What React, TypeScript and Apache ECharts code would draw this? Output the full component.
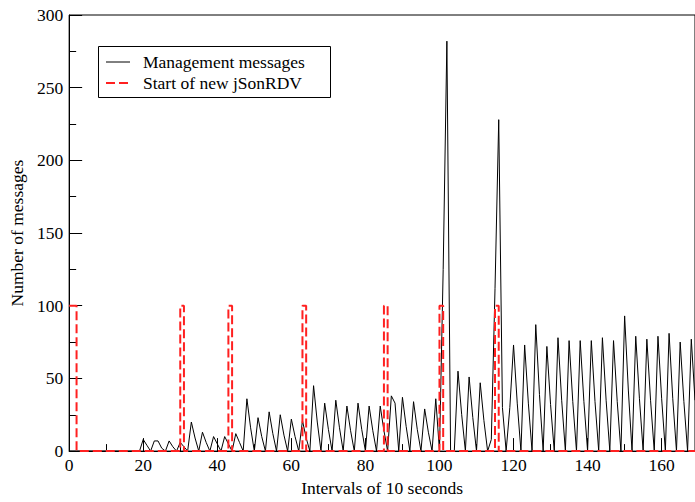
import React, { useEffect, useRef } from "react";
import * as echarts from "echarts";

const FONT = '"Liberation Serif", "Times New Roman", serif';

// Number of management messages per 10-second interval (index = interval number)
const messages: number[] = [
  0, 0, 0, 0, 0, 0, 0, 0, 0, 0,
  0, 0, 0, 0, 0, 0, 0, 0, 0, 0,
  8, 4, 0, 7, 7, 2, 0, 7, 3, 0,
  6, 3, 0, 20, 9, 0, 13, 6, 0, 10,
  5, 0, 10, 5, 0, 12, 6, 0, 36, 16,
  0, 23, 10, 0, 27, 12, 0, 25, 11, 0,
  22, 10, 0, 21, 9, 0, 45, 20, 0, 33,
  15, 0, 35, 16, 0, 31, 14, 0, 33, 15,
  0, 31, 14, 0, 31, 14, 0, 38, 33, 0,
  37, 17, 0, 34, 15, 0, 29, 13, 0, 36,
  0, 125, 282, 0, 0, 55, 25, 0, 51, 23,
  0, 47, 21, 0, 8, 112, 228, 30, 0, 30,
  73, 33, 0, 73, 33, 0, 87, 39, 0, 72,
  32, 0, 78, 35, 0, 76, 34, 0, 76, 34,
  0, 76, 34, 0, 78, 35, 0, 76, 34, 0,
  93, 42, 0, 79, 36, 0, 77, 35, 0, 79,
  36, 0, 81, 36, 0, 75, 34, 0, 77, 35,
];

// Start of new jSonRDV (step pulses)
const rdvX: number[] = [0, 2, 2, 30, 30, 31, 31, 43, 43, 44, 44, 63, 63, 64, 64, 85, 85, 86, 86, 100, 100, 101, 101, 115, 115, 116, 116, 169];
const rdvY: number[] = [100, 100, 0, 0, 100, 100, 0, 0, 100, 100, 0, 0, 100, 100, 0, 0, 100, 100, 0, 0, 100, 100, 0, 0, 100, 100, 0, 0];

const X_MIN = 0;
const X_MAX = 169;
const X_MAJOR = 20;
const X_MINOR = 10;
const Y_MIN = 0;
const Y_MAX = 300;
const Y_MAJOR = 50;

const SERIES_NAMES = ["Management messages", "Start of new jSonRDV"];
const BLACK = "#000";
const RED = "#ff2020";
const DASH = [9, 4];

export default function App() {
  const ref = useRef<HTMLDivElement>(null);

  useEffect(() => {
    if (!ref.current) return;
    const chart = echarts.init(ref.current, undefined, { renderer: "svg" });
    const msgData = messages.map((v, i) => [i, v]);
    const rdvData = rdvX.map((x, i) => [x, rdvY[i]]);
    const txt = { fontFamily: FONT, fontSize: 17.5, color: "#000" };

    // legend box drawn as graphic (line samples without symbols)
    const legendGraphic = {
      type: "group",
      left: 98,
      top: 46,
      z: 100,
      children: [
        {
          type: "rect",
          shape: { x: 0.5, y: 0.5, width: 232, height: 51 },
          style: { fill: "#fff", stroke: "#000", lineWidth: 1 },
        },
        {
          type: "line",
          shape: { x1: 8, y1: 16, x2: 32, y2: 16 },
          style: { stroke: BLACK, lineWidth: 1 },
        },
        {
          type: "line",
          shape: { x1: 8, y1: 37, x2: 32, y2: 37 },
          style: { stroke: RED, lineWidth: 2, lineDash: DASH },
        },
        {
          type: "text",
          x: 45,
          y: 16,
          style: { text: SERIES_NAMES[0], font: `17.5px ${FONT}`, fill: "#000", verticalAlign: "middle" },
        },
        {
          type: "text",
          x: 45,
          y: 37,
          style: { text: SERIES_NAMES[1], font: `17.5px ${FONT}`, fill: "#000", verticalAlign: "middle" },
        },
      ],
    };

    chart.setOption({
      animation: false,
      backgroundColor: "#fff",
      grid: {
        left: 66,
        right: -2,
        top: 15,
        bottom: 42,
        show: true,
        borderColor: "#000",
        borderWidth: 1,
        backgroundColor: "transparent",
      },
      graphic: [legendGraphic],
      xAxis: [
        {
          type: "value",
          min: X_MIN,
          max: X_MAX,
          interval: X_MAJOR,
          position: "bottom",
          axisLine: { show: true, onZero: false, lineStyle: { color: "#000", width: 1 } },
          axisTick: { show: true, inside: true, length: 13, lineStyle: { color: "#000", width: 1 } },
          axisLabel: { ...txt, margin: 5, showMaxLabel: false },
          splitLine: { show: false },
          name: "Intervals of 10 seconds",
          nameLocation: "middle",
          nameGap: 23,
          nameTextStyle: txt,
        },
        {
          type: "value",
          min: X_MIN,
          max: X_MAX,
          interval: X_MINOR,
          position: "bottom",
          axisLine: { show: false },
          axisTick: { show: true, inside: true, length: 7, lineStyle: { color: "#000", width: 1 } },
          axisLabel: { show: false },
          splitLine: { show: false },
        },
      ],
      yAxis: {
        type: "value",
        min: Y_MIN,
        max: Y_MAX,
        interval: Y_MAJOR,
        axisLine: { show: true, onZero: false, lineStyle: { color: "#000", width: 1 } },
        axisTick: { show: true, inside: true, length: 13, lineStyle: { color: "#000", width: 1 } },
        minorTick: { show: true, splitNumber: 2, length: 7, lineStyle: { color: "#000", width: 1 } },
        axisLabel: { ...txt, margin: 6 },
        splitLine: { show: false },
        name: "Number of messages",
        nameLocation: "middle",
        nameGap: 42,
        nameRotate: 90,
        nameTextStyle: txt,
      },
      series: [
        {
          type: "line",
          name: SERIES_NAMES[0],
          xAxisIndex: 0,
          data: msgData,
          symbol: "none",
          lineStyle: { color: BLACK, width: 1 },
          itemStyle: { color: BLACK },
        },
        {
          type: "line",
          name: SERIES_NAMES[1],
          xAxisIndex: 0,
          data: rdvData,
          symbol: "none",
          lineStyle: { color: RED, width: 2, type: DASH },
          itemStyle: { color: RED },
        },
      ],
    });
    return () => chart.dispose();
  }, []);

  return (
    <div
      ref={ref}
      style={{ position: "fixed", left: 0, top: 0, width: 695, height: 502, background: "#fff" }}
    />
  );
}
